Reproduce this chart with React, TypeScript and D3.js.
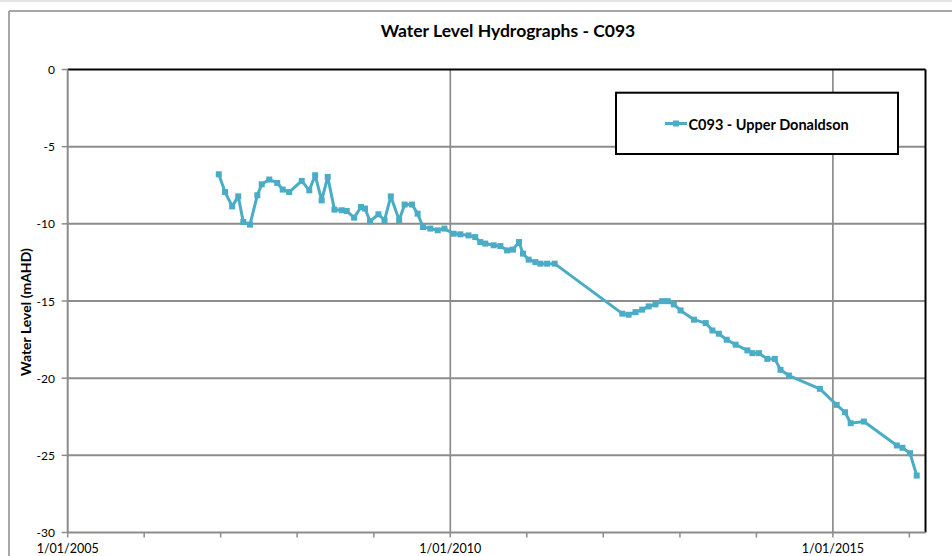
import React from "react";
import * as d3 from "d3";

const dates: string[] = [
  "2006-12-23","2007-01-22","2007-02-25","2007-03-26","2007-04-19","2007-05-21","2007-06-25","2007-07-16",
  "2007-08-21","2007-09-28","2007-10-24","2007-11-24","2008-01-23","2008-02-28","2008-03-27","2008-04-27",
  "2008-05-26","2008-06-27","2008-08-01","2008-08-25","2008-09-29","2008-11-01","2008-11-20","2008-12-14",
  "2009-01-23","2009-02-21","2009-03-23","2009-05-02","2009-05-28","2009-07-02","2009-07-29","2009-08-24",
  "2009-09-28","2009-11-02","2009-12-04","2010-01-17","2010-02-18","2010-03-29","2010-04-30","2010-05-24",
  "2010-06-17","2010-07-27","2010-08-28","2010-09-29","2010-10-27","2010-11-25","2010-12-14","2011-01-10",
  "2011-02-11","2011-03-07","2011-04-08","2011-05-14","2012-04-01","2012-05-01","2012-06-03","2012-07-05",
  "2012-08-05","2012-09-06","2012-10-08","2012-11-04","2012-12-03","2013-01-04","2013-03-09","2013-05-04",
  "2013-06-05","2013-07-06","2013-08-12","2013-09-24","2013-11-19","2013-12-13","2014-01-13","2014-02-22",
  "2014-03-30","2014-04-26","2014-06-05","2014-10-31","2015-01-19","2015-02-28","2015-03-27","2015-05-29",
  "2015-11-02","2015-11-29","2016-01-04","2016-02-05"
];
const levels: number[] = [
  -6.79,-7.94,-8.87,-8.22,-9.88,-10.05,-8.15,-7.44,
  -7.13,-7.35,-7.78,-7.94,-7.22,-7.83,-6.85,-8.48,
  -6.96,-9.08,-9.12,-9.17,-9.6,-8.91,-9.01,-9.84,
  -9.38,-9.77,-8.22,-9.77,-8.75,-8.75,-9.34,-10.21,
  -10.31,-10.42,-10.31,-10.64,-10.68,-10.75,-10.86,-11.18,
  -11.28,-11.39,-11.44,-11.72,-11.67,-11.18,-11.93,-12.32,
  -12.48,-12.58,-12.58,-12.58,-15.82,-15.89,-15.72,-15.56,
  -15.35,-15.22,-15.01,-15.01,-15.22,-15.61,-16.21,-16.43,
  -16.91,-17.12,-17.51,-17.83,-18.2,-18.38,-18.38,-18.75,
  -18.75,-19.46,-19.83,-20.69,-21.73,-22.21,-22.92,-22.81,
  -24.36,-24.51,-24.86,-26.31
];
const yTicks: number[] = [0, -5, -10, -15, -20, -25, -30];
const xLabelYears: number[] = [2005, 2010, 2015];
const minorYears: number[] = [2005, 2006, 2007, 2008, 2009, 2010, 2011, 2012, 2013, 2014, 2015, 2016];
const seriesName = "C093 - Upper Donaldson";
const title = "Water Level Hydrographs - C093";
const yTitle = "Water Level (mAHD)";

const FONT = "Lato, 'Open Sans', sans-serif";
const COLOR = "#4BACC6";
const GRID = "#8c8c8c";

export default function App() {
  const parse = d3.utcParse("%Y-%m-%d");
  const data = dates.map((d, i) => ({ date: parse(d) as Date, value: levels[i] }));

  const left = 67.7, right = 925.5, top = 69.5, bottom = 532.5;
  const x = d3.scaleUtc()
    .domain([new Date(Date.UTC(2005, 0, 1)), new Date(Date.UTC(2016, 2, 18))])
    .range([left, right]);
  const y = d3.scaleLinear().domain([-30, 0]).range([bottom, top]);

  const line = d3.line<{ date: Date; value: number }>()
    .x(d => x(d.date))
    .y(d => y(d.value));

  const fmt = (yr: number) => `1/01/${yr}`;

  return (
    <svg width={952} height={556} style={{ position: "absolute", left: 0, top: 0, background: "#fff" }}
      fontFamily={FONT}>
      <rect x={0} y={0} width={952} height={2} fill="#e4e4e4" />
      {/* outer chart frame */}
      <line x1={9} y1={11} x2={952} y2={11} stroke="#8a8a8a" strokeWidth={1.5} />
      <line x1={9} y1={11} x2={9} y2={556} stroke="#8a8a8a" strokeWidth={1.5} />

      <text x={508} y={30} textAnchor="middle" dominantBaseline="central" fontWeight="bold" fontSize={17.5} fill="#000">
        {title}
      </text>

      {/* horizontal gridlines */}
      {yTicks.filter(t => t !== 0 && t !== -30).map(t => (
        <line key={"hg" + t} x1={left} x2={right} y1={y(t)} y2={y(t)} stroke={GRID} strokeWidth={2} />
      ))}
      {/* vertical gridlines */}
      {xLabelYears.filter(yr => yr !== 2005).map(yr => {
        const xx = x(new Date(Date.UTC(yr, 0, 1)));
        return <line key={"vg" + yr} x1={xx} x2={xx} y1={top} y2={bottom} stroke={GRID} strokeWidth={1.7} />;
      })}

      {/* plot border top & right */}
      <line x1={left} x2={right} y1={top} y2={top} stroke="#000" strokeWidth={2} />
      <line x1={right} x2={right} y1={top} y2={bottom} stroke="#000" strokeWidth={2} />

      {/* y axis */}
      <line x1={left} x2={left} y1={top} y2={bottom} stroke={GRID} strokeWidth={2} />
      {yTicks.map(t => (
        <g key={"yt" + t}>
          <line x1={left - 6} x2={left} y1={y(t)} y2={y(t)} stroke={GRID} strokeWidth={1.5} />
          <text x={55} y={y(t)} textAnchor="end" dominantBaseline="central" fontSize={12} fill="#000">{t}</text>
        </g>
      ))}

      {/* x axis */}
      <line x1={left} x2={right} y1={bottom} y2={bottom} stroke={GRID} strokeWidth={2} />
      {minorYears.map(yr => {
        const xx = x(new Date(Date.UTC(yr, 0, 1)));
        return <line key={"xt" + yr} x1={xx} x2={xx} y1={bottom} y2={bottom + 5} stroke={GRID} strokeWidth={1.5} />;
      })}
      {xLabelYears.map(yr => (
        <text key={"xl" + yr} x={x(new Date(Date.UTC(yr, 0, 1)))} y={548} textAnchor="middle"
          dominantBaseline="central" fontSize={12.5} fill="#000">{fmt(yr)}</text>
      ))}

      <text transform={`translate(25, 312) rotate(-90)`} textAnchor="middle" dominantBaseline="central"
        fontWeight="bold" fontSize={14} fill="#000">{yTitle}</text>

      {/* series */}
      <path d={line(data) || ""} fill="none" stroke={COLOR} strokeWidth={3} strokeLinejoin="round" />
      {data.map((d, i) => (
        <rect key={"m" + i} x={x(d.date) - 3} y={y(d.value) - 3} width={6} height={6} fill={COLOR} />
      ))}

      {/* legend */}
      <rect x={616} y={92.7} width={282} height={61.3} fill="#fff" stroke="#000" strokeWidth={2} />
      <line x1={665} x2={687} y1={123.5} y2={123.5} stroke={COLOR} strokeWidth={3} />
      <rect x={673} y={120.5} width={6} height={6} fill={COLOR} />
      <text x={688.5} y={124} dominantBaseline="central" fontWeight="bold" fontSize={14.5} fill="#000">{seriesName}</text>
    </svg>
  );
}
